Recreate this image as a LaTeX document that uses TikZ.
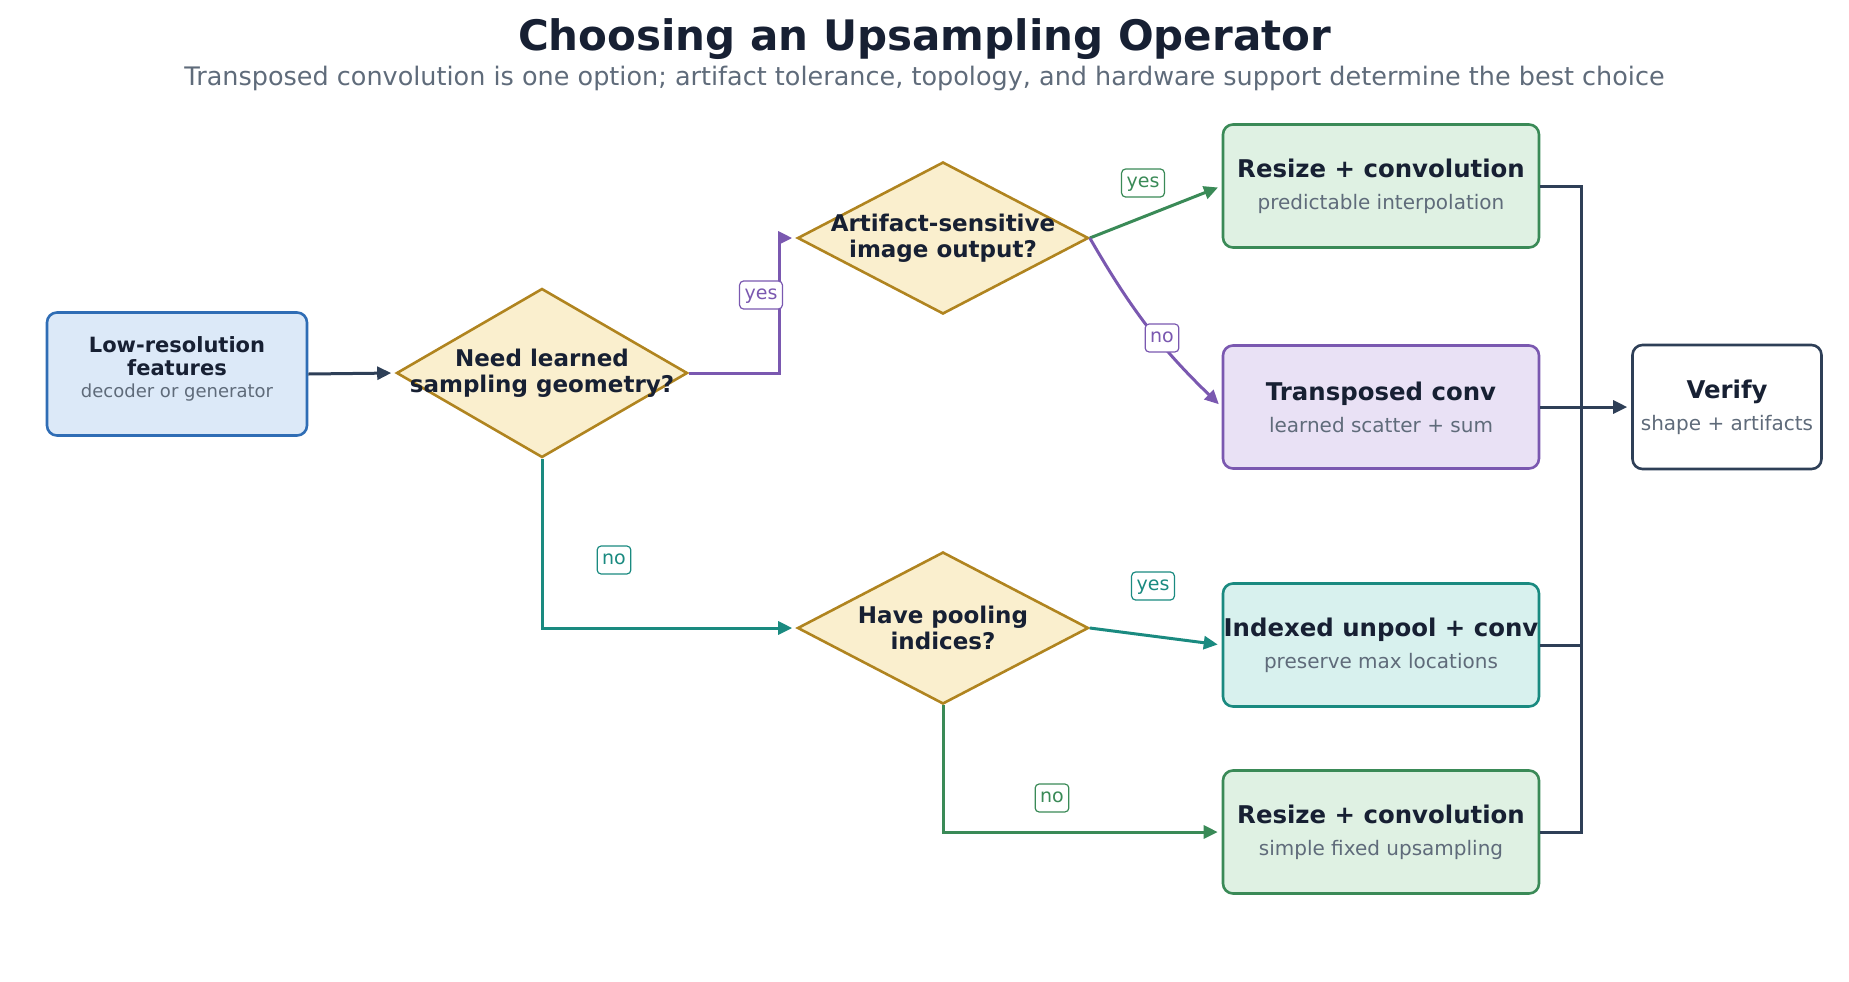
\documentclass[tikz,border=0pt]{standalone}
\usepackage{fontspec}
\setmainfont{DejaVu Sans}
\usetikzlibrary{arrows.meta,shapes.geometric}

\definecolor{ink}{HTML}{172033}
\definecolor{mute}{HTML}{5F6B7A}
\definecolor{slate}{HTML}{2E3F57}
\definecolor{blueln}{HTML}{2F6DB5}
\definecolor{bluefill}{HTML}{DCE9F8}
\definecolor{goldln}{HTML}{B0841F}
\definecolor{goldfill}{HTML}{FAEFCE}
\definecolor{greenln}{HTML}{3A8A57}
\definecolor{greenfill}{HTML}{DFF1E3}
\definecolor{purpln}{HTML}{7A58B0}
\definecolor{purpfill}{HTML}{E9E1F5}
\definecolor{tealln}{HTML}{1A8A80}
\definecolor{tealfill}{HTML}{D8F1EE}

\newcommand{\boxhead}[1]{{\fontsize{12.2}{16}\selectfont\bfseries\color{ink}#1}}

\begin{document}
\begin{tikzpicture}[x=0.5pt,y=-0.5pt,
    box/.style 2 args={draw=#1, fill=#2, line width=1.3pt, rounded corners=5pt,
        minimum width=158pt, minimum height=61.5pt, inner sep=0pt, align=center,
        text=mute, font=\fontsize{10}{16}\selectfont},
    decide/.style={diamond, draw=goldln, fill=goldfill, line width=1.3pt,
        minimum width=145.5pt, minimum height=76pt, inner sep=0pt},
    dtext/.style={align=center, text=ink, font=\fontsize{11.5}{13}\selectfont\bfseries},
    srctext/.style={align=center, text=mute, yshift=2.5pt, font=\fontsize{9}{11.2}\selectfont},
    link/.style={line width=1.5pt},
    flow/.style={link, -{Triangle[length=7pt,width=6.5pt]}, shorten >=2pt},
    tag/.style={draw=#1, text=#1, fill=white, line width=0.6pt, rounded corners=2pt,
        inner xsep=2.5pt, inner ysep=2.4pt, text height=7pt, text depth=2.2pt,
        font=\fontsize{9.5}{11}\selectfont}]
    \useasboundingbox (0,0) rectangle (1849,981);

    % title
    \node[font=\fontsize{21}{24}\selectfont\bfseries, text=ink] (title) at (924.5,39) {Choosing an Upsampling Operator};
    \node[font=\fontsize{12.75}{15}\selectfont, text=mute] (subtitle) at (924.5,78) {Transposed convolution is one option; artifact tolerance, topology, and hardware support determine the best choice};

    % input
    \node[box={blueln}{bluefill}, minimum width=130pt,
        label={[srctext]center:{\fontsize{10.5}{11.2}\selectfont\bfseries\color{ink}Low-resolution}\\{\fontsize{10.5}{11.2}\selectfont\bfseries\color{ink}features}\\decoder or generator}] (src) at (177,374) {};

    % decisions
    \node[decide, minimum height=84.5pt, label={[dtext]center:Need learned\\sampling geometry?}] (d1) at (542,373) {};
    \node[decide, label={[dtext]center:Artifact-sensitive\\image output?}] (d2) at (943,238) {};
    \node[decide, label={[dtext]center:Have pooling\\indices?}] (d3) at (943,628) {};

    % operators
    \node[box={greenln}{greenfill}] (r1) at (1381,186) {\boxhead{Resize + convolution}\\predictable interpolation};
    \node[box={purpln}{purpfill}] (tc) at (1381,407) {\boxhead{Transposed conv}\\learned scatter + sum};
    \node[box={tealln}{tealfill}] (iu) at (1381,645) {\boxhead{Indexed unpool + conv}\\preserve max locations};
    \node[box={greenln}{greenfill}] (r2) at (1381,832) {\boxhead{Resize + convolution}\\simple fixed upsampling};

    % check
    \node[box={slate}{white}, minimum width=94.5pt, minimum height=62pt] (vf) at (1727,407) {\boxhead{Verify}\\shape + artifacts};

    % edges
    \draw[flow, slate] (src.east) -- (d1.west);
    \draw[flow, purpln] (d1.east) -- ++(91,0) |- (d2.west);
    \draw[flow, tealln] (d1.south) |- (d3.west);
    \draw[flow, greenln] (d2.east) -- (r1.west);
    \draw[flow, purpln] (d2.east) to[bend right=8] (tc.west);
    \draw[flow, tealln] (d3.east) -- (iu.west);
    \draw[flow, greenln] (d3.south) |- (r2.west);

    % merge into verify
    \draw[link, slate] (r1.east) -- ++(41,0) |- (r2.east);
    \draw[link, slate] (iu.east) -- ++(41,0);
    \draw[flow, slate] (tc.east) -- (vf.west);

    % edge labels
    \node[tag=purpln] (l1) at (761,295) {yes};
    \node[tag=greenln] (l2) at (1143,183) {yes};
    \node[tag=purpln] (l3) at (1162,338) {no};
    \node[tag=tealln] (l4) at (614,560) {no};
    \node[tag=tealln] (l5) at (1153,586) {yes};
    \node[tag=greenln] (l6) at (1052,798) {no};
\end{tikzpicture}
\end{document}
